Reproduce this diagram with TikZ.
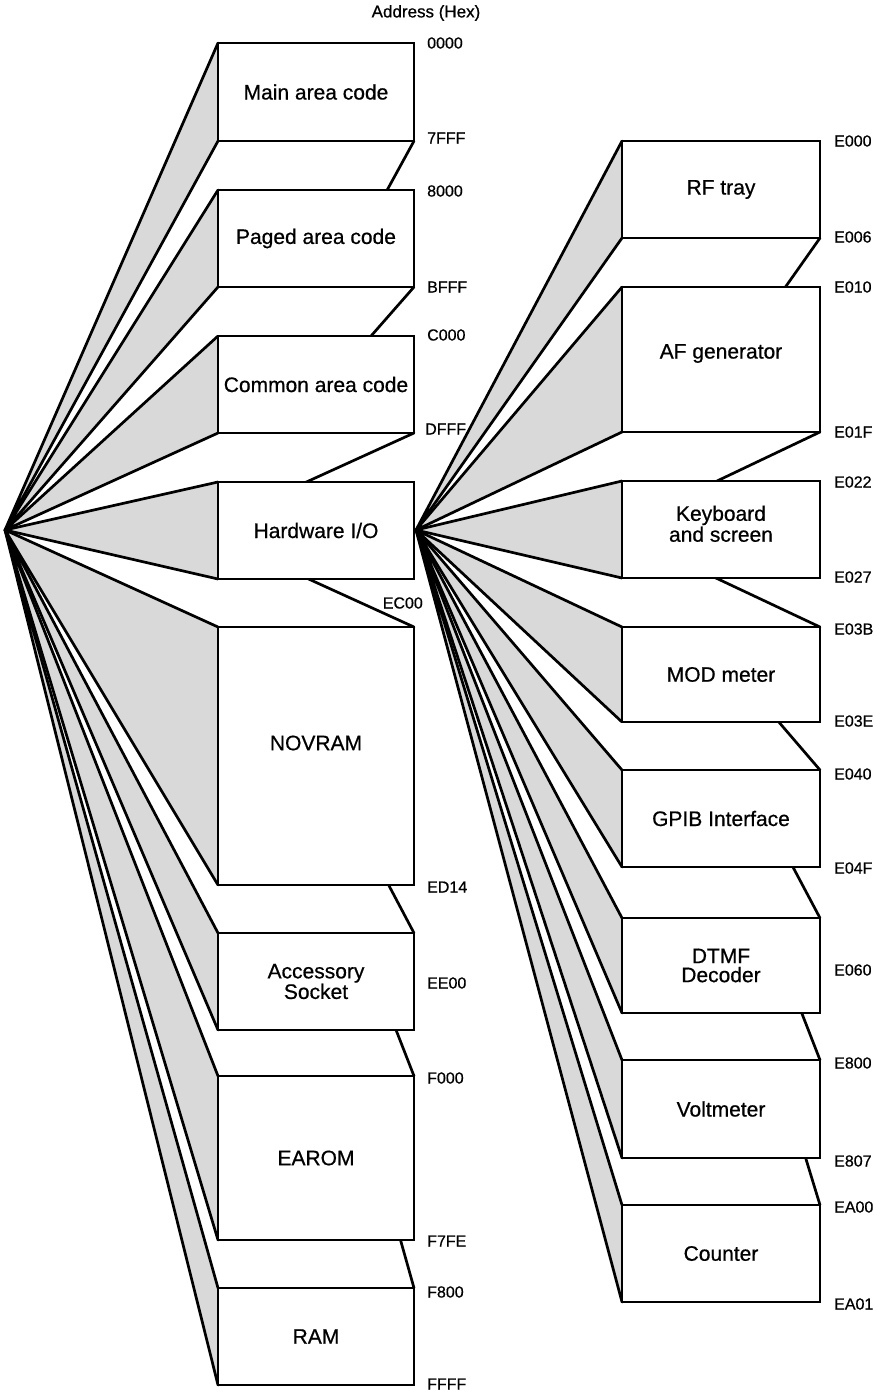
\documentclass[tikz,border=0pt]{standalone}
\usepackage{fontspec}
\setmainfont{Liberation Sans}
\newfontfamily\heavysans{Liberation Sans}[FakeBold=0.6]
\usetikzlibrary{calc}
\tikzset{
  face/.style={fill=black!15},
  edge/.style={line width=2.7pt, line join=round, line cap=round},
  blk/.style={draw, line width=2.7pt, fill=white, inner sep=0pt, align=center,
              font=\heavysans\fontsize{21}{19}\selectfont},
  addr/.style={font=\heavysans\fontsize{16}{16}\selectfont, anchor=west, inner sep=0pt},
}
% #1 name, #2 apex, #3 x left, #4 x right, #5 y top, #6 y bottom, #7 text
\newcommand\blockcorners[6]{%
  \coordinate (#1-tl) at (#3,#5);
  \coordinate (#1-tr) at (#4,#5);
  \coordinate (#1-bl) at (#3,#6);
  \coordinate (#1-br) at (#4,#6);
  \coordinate (#1-v) at ($(#2)+(#4-#3,0)$);
}
\newcommand\blocknode[7]{%
  \node[blk, minimum width={(#4-#3)*1pt}, minimum height={(#6-#5)*1pt}]
    (#1) at ({(#3+#4)/2},{(#5+#6)/2}) {#7};
}
\newcommand\upblock[7]{%
  \blockcorners{#1}{#2}{#3}{#4}{#5}{#6}
  \fill[white] (#2) -- (#1-tl) -- (#1-tr) -- (#1-br) -- (#1-v) -- cycle;
  \fill[face] (#2) -- (#1-tl) -- (#1-bl) -- cycle;
  \draw[edge] (#1-tl) -- (#2) -- (#1-bl);
  \draw[edge] (#1-br) -- (#1-v);
  \blocknode{#1}{#2}{#3}{#4}{#5}{#6}{#7}
}
\newcommand\downblock[7]{%
  \blockcorners{#1}{#2}{#3}{#4}{#5}{#6}
  \fill[white] (#2) -- (#1-v) -- (#1-tr) -- (#1-br) -- (#1-bl) -- cycle;
  \fill[face] (#2) -- (#1-tl) -- (#1-bl) -- cycle;
  \draw[edge] (#1-tl) -- (#2) -- (#1-bl);
  \draw[edge] (#1-tr) -- (#1-v);
  \blocknode{#1}{#2}{#3}{#4}{#5}{#6}{#7}
}
\newcommand\midblock[7]{%
  \blockcorners{#1}{#2}{#3}{#4}{#5}{#6}
  \fill[face] (#2) -- (#1-tl) -- (#1-bl) -- cycle;
  \draw[edge] (#1-tl) -- (#2) -- (#1-bl);
  \blocknode{#1}{#2}{#3}{#4}{#5}{#6}{#7}
}
\begin{document}
\begin{tikzpicture}[x=1pt,y=-1pt]
\useasboundingbox (0,0) rectangle (874,1395);
\coordinate (L) at (5,530);
\coordinate (R) at (416,530);

% ---------- left column ----------
\downblock{ram}{L}{218}{414}{1288}{1385}{RAM}
\downblock{earom}{L}{218}{414}{1076}{1240}{EAROM}
\downblock{acc}{L}{218}{414}{933}{1030}{Accessory\\Socket}
\downblock{novram}{L}{218}{414}{627}{885}{\raisebox{13pt}[\height][\depth]{NOVRAM}}
\upblock{main}{L}{218}{414}{43}{141}{Main area code}
\upblock{paged}{L}{218}{414}{190}{287}{Paged area code}
\upblock{common}{L}{218}{414}{336}{433}{Common area code}
\midblock{hw}{L}{218}{414}{482}{579}{Hardware I/O}

% ---------- right column ----------
\downblock{counter}{R}{622}{820}{1205}{1302}{Counter}
\downblock{volt}{R}{622}{820}{1060}{1158}{Voltmeter}
\downblock{dtmf}{R}{622}{820}{918}{1013}{DTMF\\Decoder}
\downblock{gpib}{R}{622}{820}{770}{867}{GPIB Interface}
\downblock{mod}{R}{622}{820}{627}{722}{MOD meter}
\upblock{rf}{R}{622}{820}{141}{238}{RF tray}
\upblock{af}{R}{622}{820}{287}{432}{\raisebox{6pt}[\height][\depth]{AF generator}}
\midblock{kbd}{R}{622}{820}{481}{578}{\raisebox{3pt}[\height][\depth]{\begin{tabular}{@{}c@{}}Keyboard\\and screen\end{tabular}}}

% ---------- address labels ----------
\node[font=\heavysans\fontsize{17}{17}\selectfont, inner sep=0pt] (hdr) at (426,13) {Address (Hex)};
\node[addr] (a0000) at (427,43) {0000};
\node[addr] (a7fff) at (427,138) {7FFF};
\node[addr] (a8000) at (427,191) {8000};
\node[addr] (abfff) at (427,287) {BFFF};
\node[addr] (ac000) at (427,335) {C000};
\node[addr] (adfff) at (425,429) {DFFF};
\node[addr, anchor=east] (aec00) at (423,603) {EC00};
\node[addr] (aed14) at (427,887) {ED14};
\node[addr] (aee00) at (427,983) {EE00};
\node[addr] (af000) at (427,1078) {F000};
\node[addr] (af7fe) at (427,1241) {F7FE};
\node[addr] (af800) at (427,1292) {F800};
\node[addr] (affff) at (427,1384) {FFFF};

\node[addr] (ae000) at (834,141) {E000};
\node[addr] (ae006) at (834,237) {E006};
\node[addr] (ae010) at (834,287) {E010};
\node[addr] (ae01f) at (834,432) {E01F};
\node[addr] (ae022) at (834,482) {E022};
\node[addr] (ae027) at (834,577) {E027};
\node[addr] (ae03b) at (834,629) {E03B};
\node[addr] (ae03e) at (834,721) {E03E};
\node[addr] (ae040) at (834,774) {E040};
\node[addr] (ae04f) at (834,868) {E04F};
\node[addr] (ae060) at (834,970) {E060};
\node[addr] (ae800) at (834,1063) {E800};
\node[addr] (ae807) at (834,1161) {E807};
\node[addr] (aea00) at (834,1207) {EA00};
\node[addr] (aea01) at (834,1304) {EA01};
\end{tikzpicture}
\end{document}
